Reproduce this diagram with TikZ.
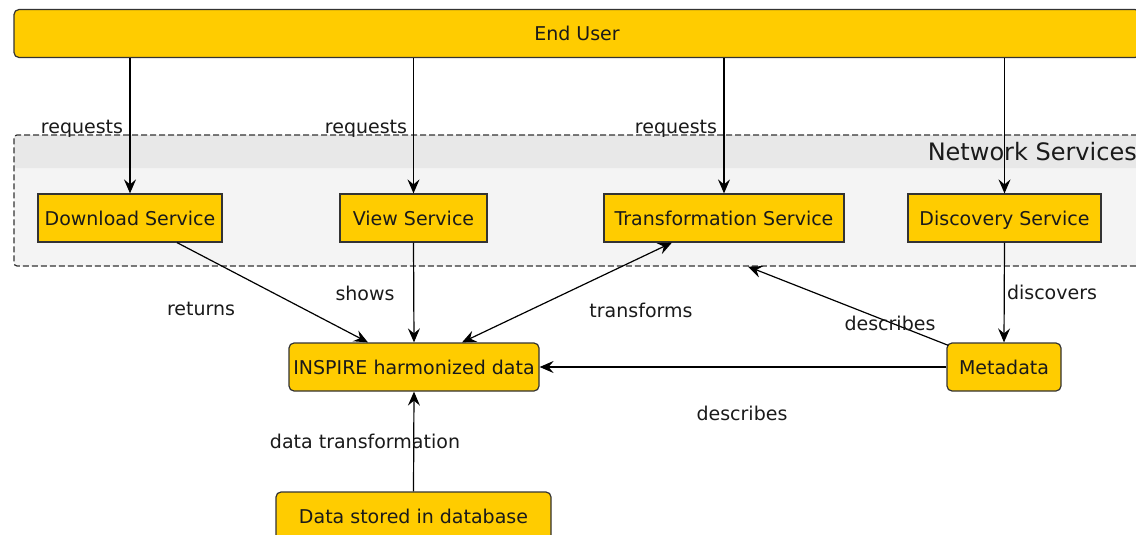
\documentclass[tikz,border=0pt]{standalone}
\usepackage{fontspec}
\setmainfont{DejaVu Sans}
\definecolor{InsYellow}{HTML}{FFCC00}
\definecolor{InsLine}{HTML}{333333}
\definecolor{InsText}{HTML}{1A1A1A}
\definecolor{GroupHead}{HTML}{E8E8E8}
\definecolor{GroupBody}{HTML}{F4F4F4}
\usetikzlibrary{
    arrows.meta,
    positioning,
    calc,
}

\begin{document}
\begin{tikzpicture}[x=1pt, y=-1pt,
        font=\fontsize{19}{22}\selectfont, text=InsText,
        >={Stealth[length=14pt,width=12pt,inset=5pt]},
        box/.style={draw=InsLine, fill=InsYellow, line width=1.2pt, inner sep=0pt,
            minimum height=48pt, text height=16pt, text depth=2pt},
        rbox/.style={box, rounded corners=5pt},
        group/.style={draw=InsLine, fill=GroupBody, line width=1.2pt, dash pattern=on 6pt off 3pt,
            rounded corners=3pt, inner sep=0pt, minimum width=1126pt, minimum height=131pt,
            path picture={\fill[GroupHead] (path picture bounding box.north west)
                rectangle ([yshift=-33pt]path picture bounding box.north east);}},
        lbl/.style={inner sep=0pt, text height=16pt, text depth=2pt},
        link/.style={draw=black, line width=1.2pt, ->},
    ]
        \useasboundingbox (0,0) rectangle (1136,535);
        \fill[white] (0,0) rectangle (1136,535);
        % boxes
        \node[rbox, minimum width=1126pt] (eu) at (577,33.5) {End User};
        \node[group] (ns) at (577,200.5) {};
        \node[lbl, anchor=east, font=\fontsize{24}{28}\selectfont] at (1137,153) {Network Services};
        \node[box, minimum width=184pt] (dl) at (130,218) {Download Service};
        \node[box, minimum width=147pt] (vw) at (413.5,218) {View Service};
        \node[box, minimum width=240pt] (tr) at (724,218) {Transformation Service};
        \node[box, minimum width=193pt] (ds) at (1004.5,218) {Discovery Service};
        \node[rbox, minimum width=250pt] (ins) at (414,367) {INSPIRE harmonized data};
        \node[rbox, minimum width=114pt] (md) at (1004,367) {Metadata};
        \node[rbox, minimum width=275pt] (db) at (413.5,516) {Data stored in database};
        % connectors
        \draw[link] (eu.south -| dl.north) -- (dl.north);
        \draw[link] (eu.south -| vw.north) -- (vw.north);
        \draw[link] (eu.south -| tr.north) -- (tr.north);
        \draw[link] (eu.south -| ds.north) -- (ds.north);
        \draw[link] ([xshift=47pt]dl.south) -- ([xshift=-46pt]ins.north);
        \draw[link] (vw.south) -- (ins.north);
        \draw[link, <->] ([xshift=-52pt]tr.south) -- ([xshift=48pt]ins.north);
        \draw[link] (ds.south) -- (md.north);
        \draw[link] ([xshift=2pt,yshift=-3pt]md.north west) -- ([xshift=171pt]ns.south);
        \draw[link] (md.west) -- (ins.east);
        \draw[link] (db.north) -- (ins.south);
        % labels
        \node[lbl] at (82,126) {requests};
        \node[lbl] at (366,126) {requests};
        \node[lbl] at (676,126) {requests};
        \node[lbl] at (201,308) {returns};
        \node[lbl] at (365,293) {shows};
        \node[lbl] at (641,310) {transforms};
        \node[lbl] at (890,323) {describes};
        \node[lbl] at (742,413) {describes};
        \node[lbl] at (1052,292) {discovers};
        \node[lbl] at (365,441) {data transformation};
    \end{tikzpicture}
\end{document}
